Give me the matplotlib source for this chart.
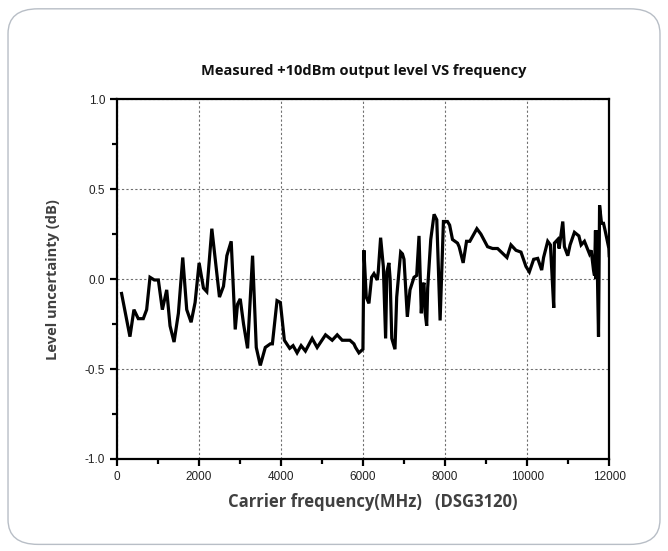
import matplotlib
matplotlib.use("Agg")
import matplotlib.pyplot as plt
from matplotlib.patches import FancyBboxPatch
from matplotlib.ticker import MultipleLocator

# measured level uncertainty (dB) vs carrier frequency (MHz)
freq = [114, 318, 415, 521, 643, 725, 807, 912, 1010, 1108, 1214, 1295, 1393, 1499,
        1605, 1702, 1809, 1906, 2004, 2110, 2191, 2314, 2500, 2598, 2680, 2786, 2884,
        2940, 3006, 3087, 3185, 3307, 3348, 3397, 3495, 3617, 3740, 3790, 3903, 3984,
        4082, 4212, 4294, 4392, 4490, 4595, 4759, 4881, 5085, 5248, 5370, 5492, 5679,
        5777, 5817, 5899, 5997, 6021, 6078, 6143, 6208, 6266, 6347, 6370, 6428, 6494,
        6550, 6580, 6630, 6660, 6700, 6778, 6820, 6917, 6960, 6998, 7079, 7144, 7242,
        7307, 7364, 7420, 7450, 7485, 7510, 7551, 7575, 7650, 7731, 7797, 7878, 7959,
        8057, 8110, 8180, 8302, 8342, 8440, 8522, 8603, 8774, 8872, 9035, 9157, 9279,
        9507, 9605, 9727, 9849, 9971, 10053, 10159, 10257, 10354, 10400, 10501, 10566,
        10600, 10648, 10664, 10745, 10780, 10868, 10908, 10990, 11046, 11152, 11260,
        11315, 11396, 11519, 11560, 11617, 11641, 11665, 11680, 11695, 11710, 11739,
        11765, 11812, 11861, 11900, 11992, 12000]
level = [-0.08, -0.32, -0.17, -0.22, -0.22, -0.17, 0.01, -0.005, -0.005, -0.17, -0.06,
         -0.26, -0.35, -0.19, 0.12, -0.17, -0.24, -0.13, 0.09, -0.05, -0.07, 0.28, -0.10,
         -0.04, 0.13, 0.21, -0.28, -0.14, -0.11, -0.25, -0.385, 0.13, -0.10, -0.38,
         -0.48, -0.38, -0.36, -0.36, -0.12, -0.13, -0.34, -0.385, -0.37, -0.41, -0.37,
         -0.40, -0.33, -0.38, -0.31, -0.34, -0.31, -0.34, -0.34, -0.36, -0.38, -0.41,
         -0.39, 0.16, -0.10, -0.135, 0.01, 0.03, -0.005, 0.04, 0.23, 0.07, -0.33, 0.04,
         0.09, 0.0, -0.33, -0.39, -0.10, 0.15, 0.14, 0.11, -0.21, -0.06, 0.01, 0.02,
         0.24, -0.19, -0.05, -0.02, -0.18, -0.26, -0.05, 0.22, 0.36, 0.33, -0.23, 0.32,
         0.32, 0.30, 0.22, 0.20, 0.18, 0.09, 0.21, 0.21, 0.28, 0.25, 0.18, 0.17, 0.17,
         0.12, 0.19, 0.16, 0.15, 0.07, 0.04, 0.11, 0.115, 0.05, 0.12, 0.21, 0.19, 0.05,
         -0.16, 0.20, 0.22, 0.17, 0.32, 0.18, 0.13, 0.19, 0.26, 0.24, 0.19, 0.21, 0.14,
         0.16, 0.05, 0.02, 0.27, 0.0, 0.27, 0.05, -0.32, 0.41, 0.31, 0.31, 0.27, 0.17,
         0.13]

x_ticks = [0, 2000, 4000, 6000, 8000, 10000, 12000]
y_ticks = [-1.0, -0.5, 0.0, 0.5, 1.0]
y_tick_labels = ["-1.0", "-0.5", "0.0", "0.5", "1.0"]

fig = plt.figure(figsize=(6.68, 5.51), dpi=100)

# rounded card behind the chart
card = FancyBboxPatch((0.012, 0.012), 0.976, 0.972,
                      boxstyle="round,pad=0,rounding_size=0.045",
                      transform=fig.transFigure, facecolor="white",
                      edgecolor="#b8bec6", linewidth=1.0, zorder=-5)
fig.patches.append(card)

ax = fig.add_axes([0.175, 0.167, 0.737, 0.653], zorder=2)
ax.patch.set_alpha(0)
ax.plot(freq, level, color="black", linewidth=2.3, solid_joinstyle="miter")

ax.set_xlim(0, 12000)
ax.set_ylim(-1.0, 1.0)
ax.set_xticks(x_ticks)
ax.set_yticks(y_ticks)
ax.set_yticklabels(y_tick_labels)
ax.xaxis.set_minor_locator(MultipleLocator(1000))
ax.yaxis.set_minor_locator(MultipleLocator(0.25))
ax.grid(True, which="major", linestyle=(0, (2, 2)), color="#707070", linewidth=0.8)

for s in ax.spines.values():
    s.set_linewidth(1.6)
ax.tick_params(which="major", direction="out", length=5, width=1.6,
               labelsize=8.5, labelcolor="#222222")
ax.tick_params(which="minor", direction="out", length=3.5, width=1.6)
for lab in ax.get_xticklabels() + ax.get_yticklabels():
    lab.set_family("Liberation Sans")

fig.text(0.545, 0.872, "Measured +10dBm output level VS frequency",
         ha="center", va="center", fontsize=10.5, fontweight="bold",
         family="Open Sans", color="#111111")
ax.set_xlabel("Carrier frequency(MHz)   (DSG3120)", fontsize=12, fontweight="bold",
              family="Open Sans", color="#404040", labelpad=7)
ax.xaxis.label.set_x(0.52)
ax.set_ylabel("Level uncertainty (dB)", fontsize=10.5, fontweight="bold",
              family="Open Sans", color="#404040", labelpad=18)

fig.savefig("out.png", dpi=100)
